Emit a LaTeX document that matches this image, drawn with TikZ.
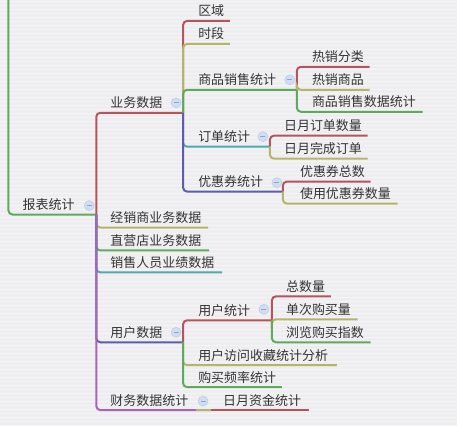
\documentclass[tikz,border=0pt]{standalone}
\usepackage{fontspec}
\newfontfamily\cjk{Noto Sans CJK SC}
\definecolor{bg}{HTML}{EEEEF0}
\definecolor{stripe}{HTML}{F4F4F6}
\definecolor{txt}{HTML}{333333}
\definecolor{cred}{HTML}{B4545C}
\definecolor{colive}{HTML}{B4B46A}
\definecolor{cgreen}{HTML}{5EAA5A}
\definecolor{cteal}{HTML}{4FA8AC}
\definecolor{cblue}{HTML}{5C5CB0}
\definecolor{cpurple}{HTML}{A865B5}
\definecolor{foldfill}{HTML}{D0DDF2}
\definecolor{foldline}{HTML}{B8CAE8}
\definecolor{foldminus}{HTML}{8AA6D6}
\newcommand\mmnode[5]{%
  \node[lbl] (#1) at (#2,#3-10) {#5};
  \coordinate (#1-e) at (#4,#3);}
\begin{document}
\begin{tikzpicture}[x=1pt,y=-1pt,
  lbl/.style={anchor=west, inner sep=0pt, font=\cjk\fontsize{13}{13}\selectfont, text=txt},
  con/.style={line width=2pt, rounded corners=4pt},
  fold/.style={circle, minimum size=10pt, inner sep=0pt, fill=foldfill, draw=foldline, line width=0.5pt,
    path picture={\draw[foldminus, line width=1pt]
      ([xshift=-2.5pt]path picture bounding box.center) -- ([xshift=2.5pt]path picture bounding box.center);}}]
\fill[bg] (0,0) rectangle (457,426);
\foreach \yy in {2,6,...,426} \draw[stripe, line width=1pt] (0,\yy) -- (457,\yy);
\useasboundingbox (0,0) rectangle (457,426);

% root
\coordinate (top) at (8,-4);
\mmnode{root}{22}{215}{96}{报表统计}
\draw[con, cgreen] (top) |- (root-e);

% level 1
\mmnode{yw}{110}{113}{183}{业务数据}
\mmnode{jxs}{110}{228}{208}{经销商业务数据}
\mmnode{zyd}{110}{251}{209}{直营店业务数据}
\mmnode{xsry}{110}{273}{222}{销售人员业绩数据}
\mmnode{yh}{110}{343}{183}{用户数据}
\mmnode{cw}{110}{411}{211}{财务数据统计}
\draw[con, cred] (root-e) |- (yw-e);
\draw[con, colive] (root-e) |- (jxs-e);
\draw[con, cgreen] (root-e) |- (zyd-e);
\draw[con, cteal] (root-e) |- (xsry-e);
\draw[con, cblue] (root-e) |- (yh-e);
\draw[con, cpurple] (root-e) |- (cw-e);
\coordinate (cwo) at (196,411);
\draw[line width=2pt, colive] (cwo) -- (cw-e);

% level 2: 业务数据
\mmnode{qy}{198}{21}{230}{区域}
\mmnode{sd}{198}{44}{230}{时段}
\mmnode{spxs}{198}{90}{297}{商品销售统计}
\mmnode{dd}{198}{147}{270}{订单统计}
\mmnode{yhq}{198}{192}{283}{优惠券统计}
\draw[con, cred] (yw-e) |- (qy-e);
\draw[con, colive] (yw-e) |- (sd-e);
\draw[con, cgreen] (yw-e) |- (spxs-e);
\draw[con, cteal] (yw-e) |- (dd-e);
\draw[con, cblue] (yw-e) |- (yhq-e);

% 商品销售统计
\mmnode{rxfl}{312}{67}{370}{热销分类}
\mmnode{rxsp}{312}{90}{370}{热销商品}
\mmnode{spsj}{312}{112}{423}{商品销售数据统计}
\draw[con, cred] (spxs-e) |- (rxfl-e);
\draw[con, colive] (spxs-e) |- (rxsp-e);
\draw[con, cgreen] (spxs-e) |- (spsj-e);

% 订单统计
\mmnode{rydd}{284}{136}{368}{日月订单数量}
\mmnode{rywc}{284}{159}{368}{日月完成订单}
\draw[con, cred] (dd-e) |- (rydd-e);
\draw[con, colive] (dd-e) |- (rywc-e);

% 优惠券统计
\mmnode{yhqzs}{300}{182}{371}{优惠券总数}
\mmnode{syyhq}{300}{204}{398}{使用优惠券数量}
\draw[con, cred] (yhq-e) |- (yhqzs-e);
\draw[con, colive] (yhq-e) |- (syyhq-e);

% 用户数据
\mmnode{yhtj}{198}{321}{272}{用户统计}
\mmnode{yhfw}{198}{366}{337}{用户访问收藏统计分析}
\mmnode{gmpl}{198}{388}{282}{购买频率统计}
\draw[con, cred] (yh-e) |- (yhtj-e);
\draw[con, colive] (yh-e) |- (yhfw-e);
\draw[con, cgreen] (yh-e) |- (gmpl-e);

% 用户统计
\mmnode{zsl}{286}{297}{331}{总数量}
\mmnode{dcgm}{286}{320}{358}{单次购买量}
\mmnode{llgm}{286}{343}{371}{浏览购买指数}
\draw[con, cred] (yhtj-e) |- (zsl-e);
\draw[con, colive] (yhtj-e) |- (dcgm-e);
\draw[con, cgreen] (yhtj-e) |- (llgm-e);

% 财务数据统计
\mmnode{ryzj}{223}{411}{309}{日月资金统计}
\draw[con, cred] (cw-e) -- (ryzj-e);

% fold markers
\node[fold] (f1) at (89,206) {};
\node[fold] (f2) at (176,103) {};
\node[fold] (f3) at (290,80) {};
\node[fold] (f4) at (263,137) {};
\node[fold] (f5) at (277,183) {};
\node[fold] (f6) at (176,333) {};
\node[fold] (f7) at (264,310) {};
\node[fold] (f8) at (203,402) {};
\end{tikzpicture}
\end{document}
